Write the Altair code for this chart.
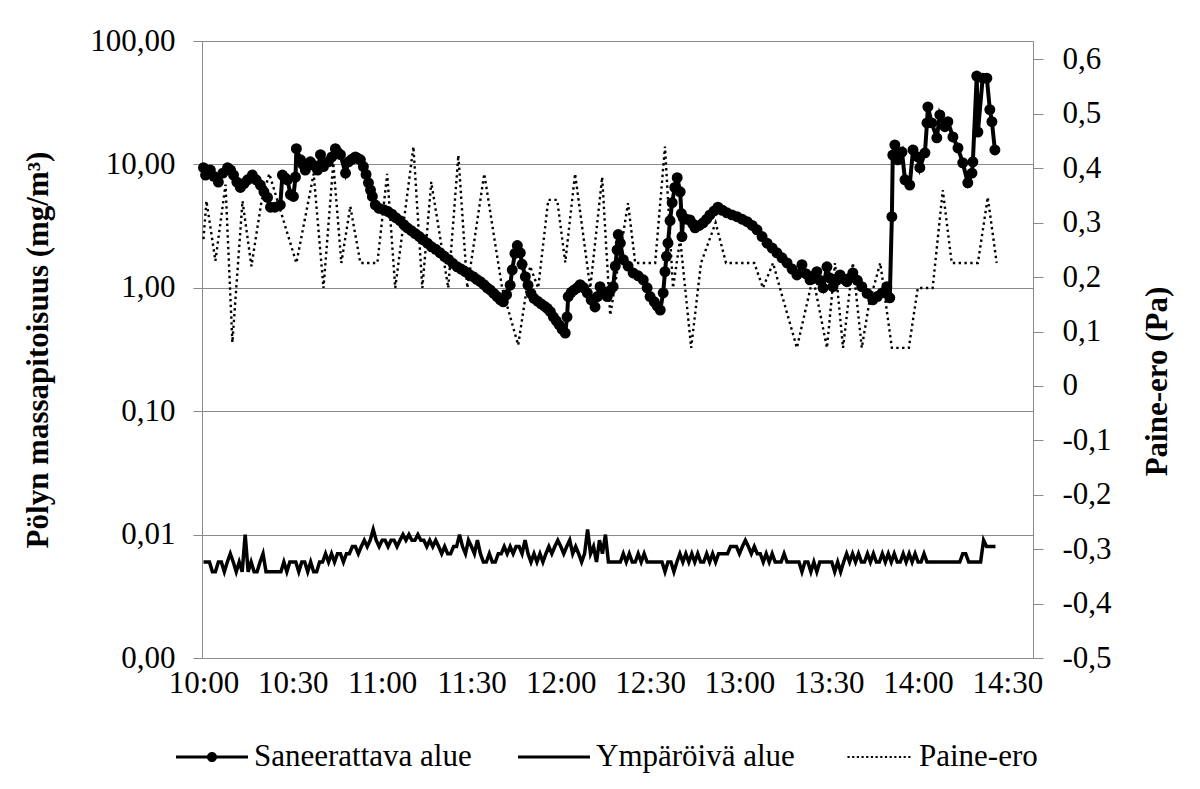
import altair as alt
import pandas as pd

# ---------------- data ----------------
SERIES = ["Saneerattava alue", "Ympäröivä alue", "Paine-ero"]
X_TICK_MIN = [0, 30, 60, 90, 120, 150, 180, 210, 240, 270]
X_TICK_LABELS = ["10:00", "10:30", "11:00", "11:30", "12:00", "12:30", "13:00", "13:30", "14:00", "14:30"]
LEFT_TICKS = [0.001, 0.01, 0.1, 1, 10, 100]
RIGHT_TICKS = [-0.5, -0.4, -0.3, -0.2, -0.1, 0, 0.1, 0.2, 0.3, 0.4, 0.5, 0.6]

# Saneerattava alue: (minutes after 10:00, mg/m3)
SANEERATTAVA = [
    (0.0, 9.4), (0.7, 8.2), (1.5, 8.8), (2.3, 9.0), (3.5, 8.0), (5.0, 7.2), (6.5, 8.5), (8.1, 9.4),
    (9.1, 9.0), (10.1, 8.2), (11.2, 7.2), (12.4, 6.5), (13.6, 7.0), (14.8, 7.5), (16.4, 8.2), (17.7, 7.5),
    (19.1, 6.8), (20.3, 6.0), (21.5, 5.4), (22.5, 4.5), (24.0, 4.5), (25.8, 4.7), (26.5, 8.2), (27.3, 7.8),
    (28.2, 7.5), (29.2, 5.7), (30.2, 5.5), (30.9, 7.9), (31.2, 13.4), (32.6, 10.9), (33.4, 10.0), (34.2, 9.0),
    (35.0, 9.8), (35.9, 10.5), (37.1, 9.8), (38.3, 9.0), (39.3, 12.0), (40.3, 9.6), (41.9, 10.5), (43.1, 11.5),
    (44.3, 13.4), (45.1, 12.5), (46.0, 12.0), (47.7, 8.5), (48.7, 10.5), (49.8, 11.0), (51.0, 11.5), (51.8, 11.2),
    (52.7, 10.9), (53.7, 9.6), (54.6, 8.3), (55.4, 7.1), (56.1, 6.2), (56.7, 5.5), (57.7, 4.7), (59.0, 4.4),
    (60.5, 4.3), (62.0, 4.15), (63.3, 3.95), (64.6, 3.7), (66.0, 3.5), (67.3, 3.25), (68.5, 3.06), (69.8, 2.9),
    (71.1, 2.75), (72.5, 2.6), (73.8, 2.45), (75.2, 2.3), (76.6, 2.15), (78.0, 2.05), (79.5, 1.92), (80.9, 1.8),
    (82.3, 1.7), (83.7, 1.58), (85.2, 1.48), (86.5, 1.42), (87.9, 1.35), (89.3, 1.28), (90.6, 1.23), (91.8, 1.17),
    (93.0, 1.12), (94.2, 1.06), (95.3, 1.0), (96.3, 0.96), (97.5, 0.9), (98.6, 0.85), (99.7, 0.8), (100.7, 0.77),
    (101.8, 0.88), (103.0, 1.05), (103.7, 1.4), (104.6, 1.9), (105.4, 2.2), (106.4, 1.92), (107.0, 1.55), (108.1, 1.23),
    (109.0, 1.05), (110.0, 0.9), (111.0, 0.82), (112.2, 0.78), (113.4, 0.74), (114.5, 0.71), (115.5, 0.68), (116.5, 0.64),
    (117.5, 0.58), (118.5, 0.54), (119.5, 0.5), (120.5, 0.46), (121.5, 0.43), (122.1, 0.58), (122.5, 0.85), (123.5, 0.92),
    (124.5, 0.96), (125.5, 1.0), (126.5, 1.06), (127.7, 1.0), (128.9, 0.91), (130.2, 0.8), (131.5, 0.7), (132.3, 0.85),
    (133.2, 1.02), (134.4, 0.92), (135.6, 0.85), (136.6, 0.95), (137.6, 1.02), (138.3, 1.5), (138.9, 2.03), (139.3, 2.7),
    (140.0, 2.3), (141.0, 1.69), (142.6, 1.5), (144.3, 1.32), (146.0, 1.25), (147.7, 1.16), (149.0, 1.0), (150.0, 0.85),
    (151.4, 0.77), (152.4, 0.71), (153.4, 0.66), (154.4, 0.91), (155.0, 1.35), (155.5, 1.8), (156.0, 2.3), (156.7, 3.5),
    (157.4, 4.9), (158.3, 6.5), (159.1, 7.8), (160.1, 6.0), (160.5, 4.0), (160.7, 2.6), (161.1, 3.7), (162.2, 3.6),
    (163.4, 3.55), (164.3, 3.3), (165.1, 3.06), (166.5, 3.2), (167.8, 3.36), (169.0, 3.6), (170.1, 3.9), (171.5, 4.2),
    (172.8, 4.5), (174.3, 4.25), (175.8, 4.05), (177.5, 3.9), (179.2, 3.77), (180.9, 3.6), (182.6, 3.43), (184.3, 3.2),
    (185.9, 2.95), (187.6, 2.6), (189.3, 2.3), (191.0, 2.1), (192.6, 1.92), (194.3, 1.75), (196.0, 1.59), (197.7, 1.42),
    (199.3, 1.27), (201.0, 1.54), (202.3, 1.3), (203.7, 1.16), (205.0, 1.25), (206.0, 1.35), (207.0, 1.15), (208.1, 1.0),
    (209.4, 1.48), (210.4, 1.2), (211.4, 1.02), (212.6, 1.15), (213.8, 1.27), (215.0, 1.18), (216.1, 1.12), (217.1, 1.2),
    (218.1, 1.32), (219.6, 1.15), (221.1, 1.02), (222.9, 0.9), (224.8, 0.8), (226.3, 0.85), (227.9, 0.91), (229.5, 1.02),
    (230.5, 0.83), (231.2, 3.77), (231.5, 11.9), (232.2, 14.4), (233.2, 10.9), (234.6, 12.6), (235.6, 7.5), (237.2, 6.8),
    (238.3, 13.1), (239.9, 11.5), (240.6, 9.4), (242.3, 12.4), (243.0, 21.7), (243.3, 29.2), (244.6, 21.7), (246.3, 16.4),
    (247.3, 25.2), (249.0, 20.2), (250.0, 22.2), (251.7, 16.7), (253.4, 13.6), (255.0, 10.3), (256.7, 7.1), (258.1, 8.5),
    (258.4, 10.5), (259.7, 52.0), (260.1, 18.3), (261.7, 50.0), (263.1, 50.0), (264.1, 27.8), (264.8, 22.2), (265.8, 13.1),
]

# Ympäröivä alue: one reading per minute from 10:00, in µg/m3 (= 0.001 mg/m3)
YMPAROIVA_UG = [
    6, 6, 6, 5, 5, 6, 6, 5, 6, 7, 6, 5, 6, 5, 10, 5, 6, 5, 5, 6,
    7, 5, 5, 5, 5, 5, 5, 6, 5, 6, 6, 6, 5, 6, 6, 5, 6, 5, 5, 6,
    6, 7, 6, 7, 6, 7, 7, 6, 7, 7, 8, 8, 7, 8, 9, 8, 9, 11, 9, 8,
    9, 9, 8, 9, 9, 8, 9, 10, 9, 10, 9, 9, 10, 9, 9, 8, 9, 8, 9, 8,
    7, 8, 7, 7, 8, 8, 10, 8, 7, 9, 8, 7, 9, 7, 6, 6, 7, 6, 6, 7,
    7, 8, 7, 8, 7, 8, 8, 7, 9, 7, 6, 7, 6, 7, 6, 7, 8, 7, 8, 9,
    8, 7, 8, 9, 7, 8, 7, 6, 7, 11, 7, 8, 6, 9, 7, 10, 6, 6, 6, 6,
    6, 7, 6, 7, 6, 6, 7, 6, 7, 6, 6, 6, 6, 6, 6, 5, 6, 6, 5, 6,
    7, 6, 7, 6, 7, 6, 7, 6, 6, 7, 6, 7, 6, 7, 7, 7, 7, 8, 8, 8,
    7, 8, 9, 8, 7, 8, 7, 7, 6, 7, 6, 7, 6, 6, 6, 7, 6, 6, 6, 6,
    6, 5, 6, 6, 5, 6, 5, 6, 6, 6, 6, 6, 5, 6, 5, 6, 7, 6, 7, 6,
    7, 6, 6, 7, 6, 7, 6, 6, 7, 6, 7, 6, 7, 6, 6, 7, 6, 7, 6, 7, 6, 6, 7, 6, 6,
    6, 6, 6, 6, 6, 6, 6, 6, 6, 6, 7, 7, 6, 6, 6, 6, 6, 9, 8, 8, 8, 8,
]

# Paine-ero: (minutes after 10:00, Pa)
PAINE_ERO = [
    (0.0, 0.27), (1.0, 0.34), (4.0, 0.23), (7.4, 0.37), (9.7, 0.08), (13.1, 0.34), (16.1, 0.22), (19.5, 0.34),
    (22.1, 0.39), (31.2, 0.226), (37.0, 0.39), (40.3, 0.18), (43.6, 0.41), (46.3, 0.226), (49.3, 0.33), (52.7, 0.226),
    (58.4, 0.226), (61.7, 0.39), (64.4, 0.18), (70.5, 0.44), (73.5, 0.18), (76.5, 0.375), (82.2, 0.18), (85.6, 0.424),
    (88.6, 0.18), (94.3, 0.39), (100.3, 0.18), (105.7, 0.075), (109.7, 0.22), (112.4, 0.18), (115.8, 0.342), (118.8, 0.342),
    (121.5, 0.227), (124.8, 0.39), (129.9, 0.18), (133.9, 0.384), (136.6, 0.13), (142.6, 0.336), (145.0, 0.226), (151.7, 0.226),
    (155.0, 0.44), (157.7, 0.18), (160.1, 0.27), (163.8, 0.07), (167.1, 0.226), (172.0, 0.30), (175.5, 0.226), (185.0, 0.226),
    (187.9, 0.18), (191.3, 0.226), (193.6, 0.18), (199.3, 0.07), (204.7, 0.20), (209.4, 0.07), (212.1, 0.226), (214.8, 0.07),
    (218.1, 0.226), (221.1, 0.07), (223.5, 0.15), (227.3, 0.226), (231.2, 0.07), (236.9, 0.07), (239.9, 0.18), (244.9, 0.18),
    (248.3, 0.36), (251.3, 0.226), (260.1, 0.226), (263.4, 0.347), (266.4, 0.226),
]

san = pd.DataFrame(SANEERATTAVA, columns=["t", "v"])
ymp = pd.DataFrame({"t": list(range(len(YMPAROIVA_UG))), "v": [u / 1000 for u in YMPAROIVA_UG]})
paine = pd.DataFrame(PAINE_ERO, columns=["t", "v"])
leg = pd.DataFrame({"sarja": SERIES})

# ---------------- styling ----------------
FONT = "Liberation Serif"
GREY = "#8a8a8a"
FS = 31

x_label_expr = str(X_TICK_LABELS).replace('"', "'") + "[round(datum.value / 30)]"
x_enc = alt.X(
    "t:Q",
    scale=alt.Scale(domain=[-0.5, 278.6], nice=False, zero=False),
    axis=alt.Axis(values=X_TICK_MIN, labelExpr=x_label_expr, title=None, ticks=False,
                  grid=False, labelPadding=10, domainColor=GREY, labelFlush=False,
                  labelFont=FONT, labelFontSize=FS, labelColor="black"),
)

y_left = alt.Y(
    "v:Q",
    scale=alt.Scale(type="log", domain=[0.001, 100], nice=False),
    axis=alt.Axis(values=LEFT_TICKS, orient="left",
                  labelExpr="replace(format(datum.value, '.2f'), '.', ',')",
                  title="Pölyn massapitoisuus (mg/m³)", grid=True, gridColor=GREY,
                  tickSize=9, tickColor=GREY, domainColor=GREY, labelPadding=18,
                  titlePadding=35, labelFont=FONT, labelFontSize=FS, labelColor="black",
                  titleFont=FONT, titleFontSize=FS, titleFontWeight="bold", titleColor="black"),
)

y_right = alt.Y(
    "v:Q",
    scale=alt.Scale(domain=[-0.5, 0.634], nice=False, zero=False),
    axis=alt.Axis(values=RIGHT_TICKS, orient="right",
                  labelExpr="(datum.value < -0.001 ? '-' : '') + (abs(datum.value) < 0.001 ? '0' : replace(format(abs(datum.value), '.1f'), '.', ','))",
                  title="Paine-ero (Pa)", titleAngle=270, titleY=340, grid=False,
                  tickSize=10, tickColor=GREY, domainColor=GREY, labelPadding=19,
                  titlePadding=62, labelFont=FONT, labelFontSize=FS, labelColor="black",
                  titleFont=FONT, titleFontSize=FS, titleFontWeight="bold", titleColor="black"),
)

# legend symbols (unit box -1..1)
PATH_S = "M-1,-0.045H1V0.045H-1Z M0.14,0A0.14,0.14 0 1,1 -0.14,0A0.14,0.14 0 1,1 0.14,0Z"
PATH_Y = "M-1,-0.045H1V0.045H-1Z"
PATH_P = " ".join(
    f"M{-0.82 + i * 0.13:.3f},-0.03h0.06v0.06h-0.06Z" for i in range(14)
)

paine_line = alt.Chart(paine).mark_line(
    color="black", strokeWidth=2.4, strokeDash=[2.4, 3.4]
).encode(x=x_enc, y=y_right)

ymp_line = alt.Chart(ymp).mark_line(color="black", strokeWidth=3.5).encode(x=x_enc, y=y_left)
san_line = alt.Chart(san).mark_line(color="black", strokeWidth=4).encode(x=x_enc, y=y_left)
san_pts = alt.Chart(san).mark_circle(color="black", size=120, opacity=1).encode(x=x_enc, y=y_left)

legend_layer = alt.Chart(leg).mark_point(filled=True, color="black", opacity=1, clip=True).encode(
    x=alt.value(-5000),
    y=alt.value(-5000),
    shape=alt.Shape(
        "sarja:N",
        scale=alt.Scale(domain=SERIES, range=[PATH_S, PATH_Y, PATH_P]),
        legend=alt.Legend(
            title=None, orient="none", legendX=-26, legendY=680, direction="horizontal",
            columns=3, symbolSize=5184, symbolFillColor="black", symbolStrokeWidth=0,
            symbolOpacity=1, labelFont=FONT, labelFontSize=FS, labelColor="black",
            labelLimit=600, labelOffset=6, columnPadding=46, padding=0,
        ),
    ),
)

left = alt.layer(ymp_line, san_line, san_pts, legend_layer)
chart = (
    alt.layer(paine_line, left)
    .resolve_scale(y="independent")
    .properties(
        width=831, height=617,
        padding={"left": 194, "top": 33, "right": 150, "bottom": 120},
        autosize=alt.AutoSizeParams(type="none"),
        background="white",
    )
    .configure_view(stroke=None)
    .configure_axis(domainWidth=1, tickWidth=1, gridWidth=1)
    .configure_legend(labelFont=FONT, labelFontSize=FS, labelColor="black", labelLimit=600)
)

chart.save("out.html", embed_options={"renderer": "svg", "actions": False})
